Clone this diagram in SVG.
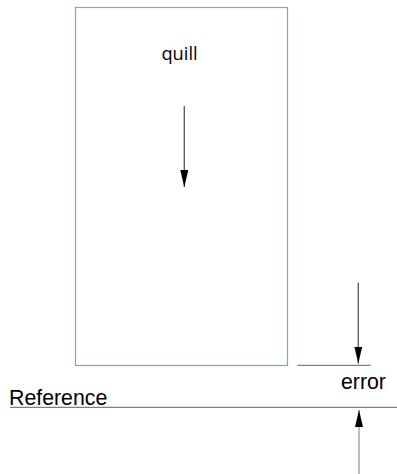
<svg xmlns="http://www.w3.org/2000/svg" width="397" height="474" viewBox="0 0 397 474">
<defs>
<marker id="ah" markerUnits="userSpaceOnUse" markerWidth="17" markerHeight="8" refX="17" refY="4" orient="auto">
<path d="M0,0 L17,4 L0,8 z" fill="#000"/>
</marker>
<style>
.lbl{font-family:"Liberation Sans",Arial,sans-serif;font-size:21.3px;fill:#000}
.q{font-family:"Open Sans",sans-serif;font-size:18.3px;fill:#000}
.ln{stroke:#808080;stroke-width:1.3;fill:none}
.ar{stroke:#555;stroke-width:1.3;fill:none;marker-end:url(#ah)}
</style>
</defs>
<rect width="397" height="474" fill="#fff"/>
<g id="quill">
<rect x="75.5" y="7.5" width="212" height="358" fill="none" stroke="#66c266" stroke-width="1.2"/>
<text class="q" x="179.5" y="60" text-anchor="middle">quill</text>
</g>
<g id="reference">
<text class="lbl" x="9" y="405">Reference</text>
</g>
<g id="error">
<text class="lbl" x="341" y="389">error</text>
</g>
<g id="connectors">
<line class="ar" x1="184.3" y1="106" x2="184.3" y2="187"/>
<line class="ar" x1="358.3" y1="282.5" x2="358.3" y2="363.5"/>
<line class="ln" x1="297.3" y1="365.3" x2="370.7" y2="365.3"/>
<line class="ln" x1="10" y1="407.3" x2="397" y2="407.3"/>
<line class="ar" x1="359" y1="474" x2="359" y2="410" style="stroke:#999"/>
</g>
</svg>
